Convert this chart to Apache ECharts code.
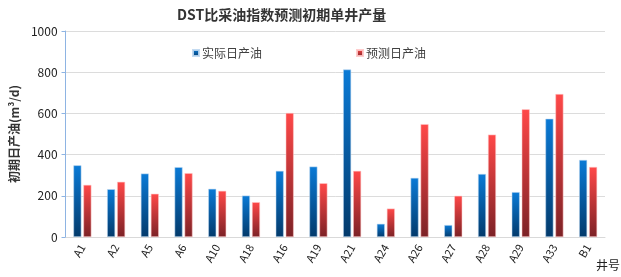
<!DOCTYPE html>
<html>
<head>
<meta charset="utf-8">
<script src="https://cdn.jsdelivr.net/npm/echarts@6/dist/echarts.min.js"></script>
<style>
html, body { margin: 0; padding: 0; background: #fff; }
#chart { width: 621px; height: 277px; }
</style>
</head>
<body>
<div id="chart"></div>
<script>
// 井号
const wells = ['A1', 'A2', 'A5', 'A6', 'A10', 'A18', 'A16', 'A19', 'A21', 'A24', 'A26', 'A27', 'A28', 'A29', 'A33', 'B1']
// 实际日产油
const actual = [348, 232, 308, 339, 234, 201, 321, 342, 813, 64, 287, 58, 306, 218, 574, 374]
// 预测日产油
const predicted = [253, 268, 210, 310, 224, 169, 602, 261, 321, 138, 548, 200, 497, 620, 694, 340]
const yTicks = [0, 200, 400, 600, 800, 1000]

const font = '"Noto Sans CJK SC", "Noto Sans", sans-serif'

function grad (top, bottom) {
  return new echarts.graphic.LinearGradient(0, 0, 0, 1, [
    { offset: 0, color: top },
    { offset: 1, color: bottom }
  ])
}

const myChart = echarts.init(document.getElementById('chart'))
const option = {
  animation: false,
  textStyle: { fontFamily: font },
  title: {
    text: 'DST比采油指数预测初期单井产量',
    left: 172,
    top: 3,
    textStyle: { fontSize: 14, fontWeight: 'bold', color: '#333', fontFamily: font }
  },
  legend: {
    data: ['实际日产油', '预测日产油'],
    top: 42,
    left: 187,
    itemGap: 94,
    itemWidth: 6,
    itemHeight: 6,
    icon: 'rect',
    textStyle: { fontSize: 12, color: '#404040', padding: [0, 0, 0, -2] }
  },
  grid: {
    left: 61,
    right: 16,
    top: 31,
    bottom: 40
  },
  xAxis: {
    type: 'category',
    data: wells,
    axisLine: { lineStyle: { color: '#d9d9d9' } },
    axisTick: { show: false },
    axisLabel: {
      interval: 0,
      rotate: 60,
      fontSize: 11,
      color: '#222',
      margin: 8
    }
  },
  yAxis: {
    type: 'value',
    min: 0,
    max: 1000,
    interval: 200,
    name: '初期日产油(m³/d)',
    nameLocation: 'middle',
    nameGap: 44,
    nameTextStyle: { fontSize: 12, color: '#333', fontWeight: 'bold' },
    axisLine: { show: true, lineStyle: { color: '#8eb4e3' } },
    axisTick: { show: true, inside: false, length: 4, lineStyle: { color: '#8eb4e3' } },
    axisLabel: {
      fontSize: 12,
      color: '#222',
      margin: 8,
      formatter: v => yTicks.includes(v) ? String(v) : ''
    },
    splitLine: { lineStyle: { color: '#dcdcdc' } }
  },
  graphic: [{
    type: 'text',
    left: 596,
    top: 259,
    style: { text: '井号', fontSize: 12, fill: '#222', fontFamily: font }
  }],
  series: [{
    name: '实际日产油',
    type: 'bar',
    data: actual,
    barWidth: 8,
    barGap: '25%',
    itemStyle: {
      color: grad('#0a7ad6', '#033a6b'),
      borderColor: 'rgba(190,215,240,0.9)',
      borderWidth: 0.6
    }
  }, {
    name: '预测日产油',
    type: 'bar',
    data: predicted,
    barWidth: 8,
    itemStyle: {
      color: grad('#ff4848', '#7c2226'),
      borderColor: 'rgba(255,200,200,0.9)',
      borderWidth: 0.6
    }
  }]
}
myChart.setOption(option)
</script>
</body>
</html>
